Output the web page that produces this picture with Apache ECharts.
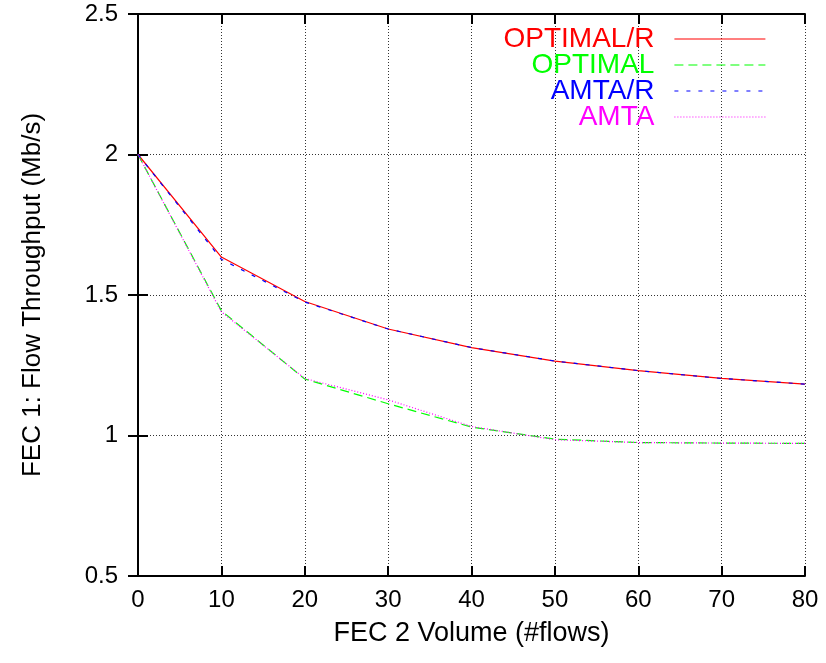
<!DOCTYPE html>
<html>
<head>
<meta charset="utf-8">
<script src="https://cdn.jsdelivr.net/npm/echarts@6/dist/echarts.min.js"></script>
<style>
html,body{margin:0;padding:0;background:#fff;}
#chart{width:826px;height:663px;}
</style>
</head>
<body>
<div id="chart"></div>
<script>
const xValues = [0, 10, 20, 30, 40, 50, 60, 70, 80];
const optimalR = [2.0, 1.635, 1.477, 1.379, 1.313, 1.265, 1.231, 1.203, 1.183];
const optimal  = [2.0, 1.444, 1.201, 1.113, 1.030, 0.987, 0.975, 0.973, 0.972];
const amtaR    = [2.0, 1.627, 1.475, 1.379, 1.313, 1.265, 1.231, 1.203, 1.183];
const amta     = [2.0, 1.440, 1.203, 1.127, 1.032, 0.985, 0.975, 0.973, 0.972];
const seriesNames = ['OPTIMAL/R', 'OPTIMAL', 'AMTA/R', 'AMTA'];
const xTitle = 'FEC 2 Volume (#flows)';
const yTitle = 'FEC 1: Flow Throughput (Mb/s)';

const FONT = "'Liberation Sans', Arial, Helvetica, sans-serif";
const colors = ['#ff0000', '#00ff00', '#0000ff', '#ff00ff'];
const dashes = ['solid', [9, 5], [4, 8], [1, 2]];
const allData = [optimalR, optimal, amtaR, amta];

function pairs(ys) { return xValues.map((x, i) => [x, ys[i]]); }

const grid = { left: 138, right: 21, top: 14, bottom: 87 };
const gridLine = { show: true, lineStyle: { color: '#333', width: 1, type: [1, 2] } };
const axLine = { show: true, lineStyle: { color: '#000', width: 2 } };
const axTick = { show: true, inside: true, length: 10, lineStyle: { color: '#000', width: 2 } };

const legends = seriesNames.map((n, i) => ({
  data: [n],
  right: 60,
  top: 25 + i * 26,
  orient: 'vertical',
  align: 'right',
  padding: 0,
  itemWidth: 91,
  itemHeight: 12,
  selectedMode: false,
  itemStyle: { opacity: 0 },
  lineStyle: { width: 1.2 },
  textStyle: { color: colors[i], fontSize: 28, fontFamily: FONT, padding: [0, 15, 0, 0] }
}));

const option = {
  animation: false,
  backgroundColor: '#fff',
  grid: grid,
  legend: legends,
  xAxis: [
    {
      type: 'value', min: 0, max: 80, interval: 10, position: 'bottom',
      name: xTitle, nameLocation: 'middle', nameGap: 44,
      nameTextStyle: { fontSize: 27, fontFamily: FONT, color: '#000' },
      axisLine: axLine, axisTick: axTick, splitLine: gridLine,
      axisLabel: { fontSize: 24, fontFamily: FONT, color: '#000', margin: 12 }
    },
    {
      type: 'value', min: 0, max: 80, interval: 10, position: 'top',
      axisLine: axLine, axisTick: axTick, splitLine: { show: false },
      axisLabel: { show: false }
    }
  ],
  yAxis: [
    {
      type: 'value', min: 0.5, max: 2.5, interval: 0.5, position: 'left',
      name: yTitle, nameLocation: 'middle', nameGap: 92,
      nameTextStyle: { fontSize: 26, fontFamily: FONT, color: '#000' },
      axisLine: axLine, axisTick: axTick, splitLine: gridLine,
      axisLabel: { fontSize: 24, fontFamily: FONT, color: '#000', margin: 20 }
    },
    {
      type: 'value', min: 0.5, max: 2.5, interval: 0.5, position: 'right',
      axisLine: axLine, axisTick: axTick, splitLine: { show: false },
      axisLabel: { show: false }
    }
  ],
  series: seriesNames.map((n, i) => ({
    name: n,
    type: 'line',
    data: pairs(allData[i]),
    symbol: 'none',
    color: colors[i],
    lineStyle: { color: colors[i], width: 1.2, type: dashes[i] },
    z: 2 + i
  }))
};

const chart = echarts.init(document.getElementById('chart'), null, { renderer: 'canvas' });
chart.setOption(option);
</script>
</body>
</html>
